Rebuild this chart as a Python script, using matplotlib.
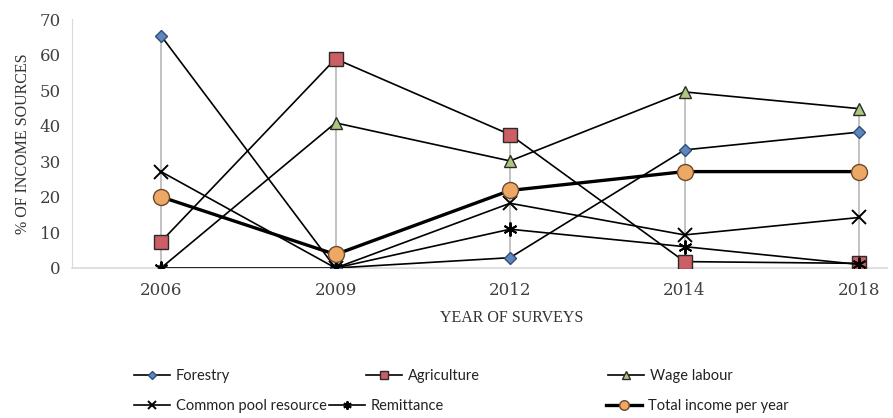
import numpy as np
import matplotlib
matplotlib.use("Agg")
import matplotlib.pyplot as plt

# data (% of income sources)
years = ["2006", "2009", "2012", "2014", "2018"]
forestry = [65.3, 0, 2.9, 33.2, 38.2]
agriculture = [7.4, 58.8, 37.5, 1.8, 1.3]
wage_labour = [0, 40.8, 30.1, 49.5, 44.8]
common_pool = [27.1, 0, 18.2, 9.3, 14.2]
remittance = [0, 0, 10.9, 6.0, 1.0]
total_income = [20.0, 3.8, 21.8, 27.1, 27.1]

serif = ["Liberation Serif", "DejaVu Serif"]
tickfont = ["DejaVu Serif"]
legfont = ["Lato", "DejaVu Sans"]

fig = plt.figure(figsize=(8.93, 4.18), dpi=100)
ax = fig.add_axes([72/893, 1-268/418, (887-72)/893, (268-19)/418])

x = np.arange(len(years))

# grey high-low lines from 0 up to the highest value of each year
all_series = np.array([forestry, agriculture, wage_labour, common_pool, remittance, total_income])
ax.vlines(x, all_series.min(axis=0), all_series.max(axis=0), color="#bdbdbd", lw=1.3, zorder=1)

edge = "#2b2b2b"
ax.plot(x, forestry, color="black", lw=1.2, marker="D", ms=6.5, mfc="#5f86bd", mec="#2f4f7a",
        label="Forestry", zorder=3)
ax.plot(x, agriculture, color="black", lw=1.2, marker="s", ms=10, mfc="#cc5f66", mec=edge,
        label="Agriculture", zorder=3)
ax.plot(x, wage_labour, color="black", lw=1.2, marker="^", ms=9, mfc="#aec77f", mec=edge,
        label="Wage labour", zorder=3)
ax.plot(x, common_pool, color="black", lw=1.2, marker="x", ms=10, mew=1.4,
        label="Common pool resource", zorder=3)
ax.plot(x, remittance, color="black", lw=1.2, marker=(6, 2, 0), ms=10, mew=1.4, mec="black",
        label="Remittance", zorder=3)
ax.plot(x, total_income, color="black", lw=2.4, marker="o", ms=11.5, mfc="#eea865", mec="#6b4a2a",
        label="Total income per year", zorder=4)

ax.set_xlim(-0.51, 4.16)
ax.set_ylim(0, 70)
ax.set_yticks(range(0, 71, 10))
ax.set_xticks(x)
ax.set_xticklabels(years, fontfamily=tickfont, fontsize=12, color="#404040")
for t in ax.get_yticklabels():
    t.set_fontfamily(tickfont)
    t.set_fontsize(12)
    t.set_color("#404040")
ax.tick_params(length=0, pad=8)
ax.tick_params(axis="x", pad=10)

for s in ["top", "right"]:
    ax.spines[s].set_visible(False)
ax.spines["left"].set_color("#d9d9d9")
ax.spines["bottom"].set_color("#d9d9d9")
ax.spines["bottom"].set_linewidth(1.2)

ax.set_ylabel("% OF INCOME SOURCES", fontfamily=serif, fontsize=11.5, color="#333333")
ax.yaxis.set_label_coords(-0.05, 0.5)
ax.set_xlabel("YEAR OF SURVEYS", fontfamily=serif, fontsize=11.5, color="#333333")
ax.xaxis.set_label_coords(0.539, -0.17)

# legend entries placed like the Excel legend (handle left edge, row centre in pixels)
handles, labels = ax.get_legend_handles_labels()
legend_pos = [(134, 376), (366, 376), (608, 376), (134, 406), (329, 406), (606, 406)]
for h, l, (px, py) in zip(handles, labels, legend_pos):
    leg = fig.legend([h], [l], loc="center left", bbox_to_anchor=(px/893, 1-py/418),
                     frameon=False, handlelength=2.5, handletextpad=0.35, borderaxespad=0,
                     borderpad=0, markerscale=0.6, prop={"family": legfont, "size": 10.5})
    for t in leg.get_texts():
        t.set_color("#222222")

fig.savefig("out.png", dpi=100)
